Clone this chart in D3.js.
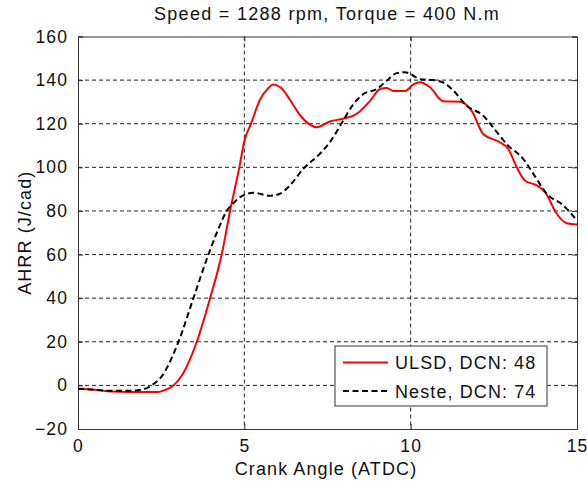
<!DOCTYPE html>
<html><head><meta charset="utf-8">
<script src="https://cdn.jsdelivr.net/npm/d3@7"></script>
<style>
body{margin:0;background:#fff;}
text{font-family:"Liberation Sans",Arial,sans-serif;fill:#111;}
</style></head>
<body>
<svg id="c" width="587" height="483"></svg>
<script>
const title = "Speed = 1288 rpm, Torque = 400 N.m";
const xLabel = "Crank Angle (ATDC)";
const yLabel = "AHRR (J/cad)";
const xTicks = [0, 5, 10, 15];
const yTicks = [-20, 0, 20, 40, 60, 80, 100, 120, 140, 160];
const seriesNames = ["ULSD, DCN: 48", "Neste, DCN: 74"];

const ulsdX = [0, 0.5, 1, 1.5, 2, 2.4, 2.6, 2.87, 3.16, 3.57, 3.97, 4.32, 4.57, 4.85, 5.0, 5.2, 5.47, 5.7, 5.87, 6.1, 6.37, 6.67, 6.97, 7.17, 7.57, 7.97, 8.28, 8.47, 8.78, 9.08, 9.28, 9.48, 9.83, 10.08, 10.28, 10.58, 10.98, 11.48, 11.83, 12.18, 12.68, 12.93, 13.19, 13.43, 13.79, 14.04, 14.39, 14.69, 15];
const ulsdY = [-1.5, -2, -2.8, -3, -3, -3, -2.2, 0, 5.5, 20, 40, 60, 80, 100, 112, 120, 131, 136, 138, 136.5, 131, 124, 119.6, 118.4, 121, 122.3, 123.7, 125.6, 130.5, 135.9, 136.4, 135, 135, 138, 139, 136.7, 130.3, 130.1, 126, 115.3, 111.5, 108.5, 100, 94, 91.7, 88.6, 78.7, 74.4, 73.8];

const nesteX = [0, 0.5, 1, 1.5, 1.9, 2.21, 2.51, 3.02, 3.47, 3.92, 4.2, 4.47, 4.7, 4.87, 5.27, 5.77, 6.07, 6.37, 6.77, 7.27, 7.57, 7.97, 8.28, 8.58, 8.98, 9.28, 9.58, 9.83, 10.08, 10.28, 10.68, 10.98, 11.28, 11.68, 12.18, 12.48, 12.88, 13.38, 13.69, 14.09, 14.59, 15];
const nesteY = [-1.5, -2, -2.5, -2.5, -2, 0, 4, 20, 40, 60, 71, 80, 84, 86.3, 88.3, 87, 87.9, 91.7, 99.3, 106.2, 111.5, 121.4, 129, 133.6, 135.9, 139.7, 143.2, 143.6, 142, 140.4, 140, 138.9, 135.3, 128.3, 123.7, 118.3, 110.7, 103.9, 97, 87.9, 82.5, 75.6];

const L = 78, R = 577, T = 36.5, B = 429;
const x = d3.scaleLinear().domain([0, 15]).range([L, R]);
const y = d3.scaleLinear().domain([-20, 160]).range([B, T]);
const svg = d3.select("#c");
const FS = 17.5, LS = "1.1px";

// grid
const g = svg.append("g");
g.selectAll(".gx").data(xTicks.slice(1, -1)).join("line")
  .attr("x1", d => x(d)).attr("x2", d => x(d)).attr("y1", T).attr("y2", B)
  .attr("stroke", "#222").attr("stroke-width", 1).attr("stroke-dasharray", "4,3");
g.selectAll(".gy").data(yTicks.slice(1, -1)).join("line")
  .attr("y1", d => y(d)).attr("y2", d => y(d)).attr("x1", L).attr("x2", R)
  .attr("stroke", "#222").attr("stroke-width", 1).attr("stroke-dasharray", "4,3");

// axes (ticks inward)
const ax = [
  {a: d3.axisBottom(x).tickValues(xTicks).tickSize(-5).tickPadding(11), t: `translate(0,${B})`, lab: true},
  {a: d3.axisTop(x).tickValues(xTicks).tickSize(-5), t: `translate(0,${T})`, lab: false},
  {a: d3.axisLeft(y).tickValues(yTicks).tickSize(-5).tickPadding(10), t: `translate(${L},0)`, lab: true},
  {a: d3.axisRight(y).tickValues(yTicks).tickSize(-5), t: `translate(${R},0)`, lab: false}
];
ax.forEach(o => {
  const gg = svg.append("g").attr("transform", o.t).call(o.a);
  gg.select(".domain").attr("stroke", "#333").attr("stroke-width", 1);
  gg.selectAll(".tick line").attr("stroke", "#333");
  gg.selectAll("text").attr("font-size", FS).attr("font-family", "Liberation Sans, Arial, sans-serif")
    .style("letter-spacing", LS).attr("fill", "#111");
  if (!o.lab) gg.selectAll("text").remove();
});

// lines
const line = d3.line().x(d => x(d[0])).y(d => y(d[1])).curve(d3.curveMonotoneX);
const ulsd = ulsdX.map((v, i) => [v, ulsdY[i]]);
const neste = nesteX.map((v, i) => [v, nesteY[i]]);
svg.append("path").datum(ulsd).attr("d", line).attr("fill", "none")
  .attr("stroke", "#ff0000").attr("stroke-width", 2);
svg.append("path").datum(neste).attr("d", line).attr("fill", "none")
  .attr("stroke", "#000").attr("stroke-width", 2).attr("stroke-dasharray", "6,3.5");

// title & labels
svg.append("text").attr("x", 327).attr("y", 20).attr("text-anchor", "middle")
  .attr("font-size", 18).style("letter-spacing", "1.3px").text(title);
svg.append("text").attr("x", 326).attr("y", 475).attr("text-anchor", "middle")
  .attr("font-size", 18).style("letter-spacing", "1.1px").text(xLabel);
svg.append("text").attr("transform", `translate(31,${(T + B) / 2}) rotate(-90)`).attr("text-anchor", "middle")
  .attr("font-size", 18).style("letter-spacing", "1.1px").text(yLabel);

// legend
const lg = svg.append("g");
lg.append("rect").attr("x", 335).attr("y", 346).attr("width", 212).attr("height", 60)
  .attr("fill", "#fff").attr("stroke", "#333").attr("stroke-width", 1);
const styles = [{c: "#ff0000", d: null}, {c: "#000", d: "6,3.5"}];
seriesNames.forEach((n, i) => {
  const yy = 362.5 + i * 28.5;
  lg.append("line").attr("x1", 343).attr("x2", 388).attr("y1", yy).attr("y2", yy)
    .attr("stroke", styles[i].c).attr("stroke-width", 2).attr("stroke-dasharray", styles[i].d);
  lg.append("text").attr("x", 395).attr("y", yy + 6.5).attr("font-size", 18)
    .style("letter-spacing", "1.1px").text(n);
});
</script>
</body></html>
